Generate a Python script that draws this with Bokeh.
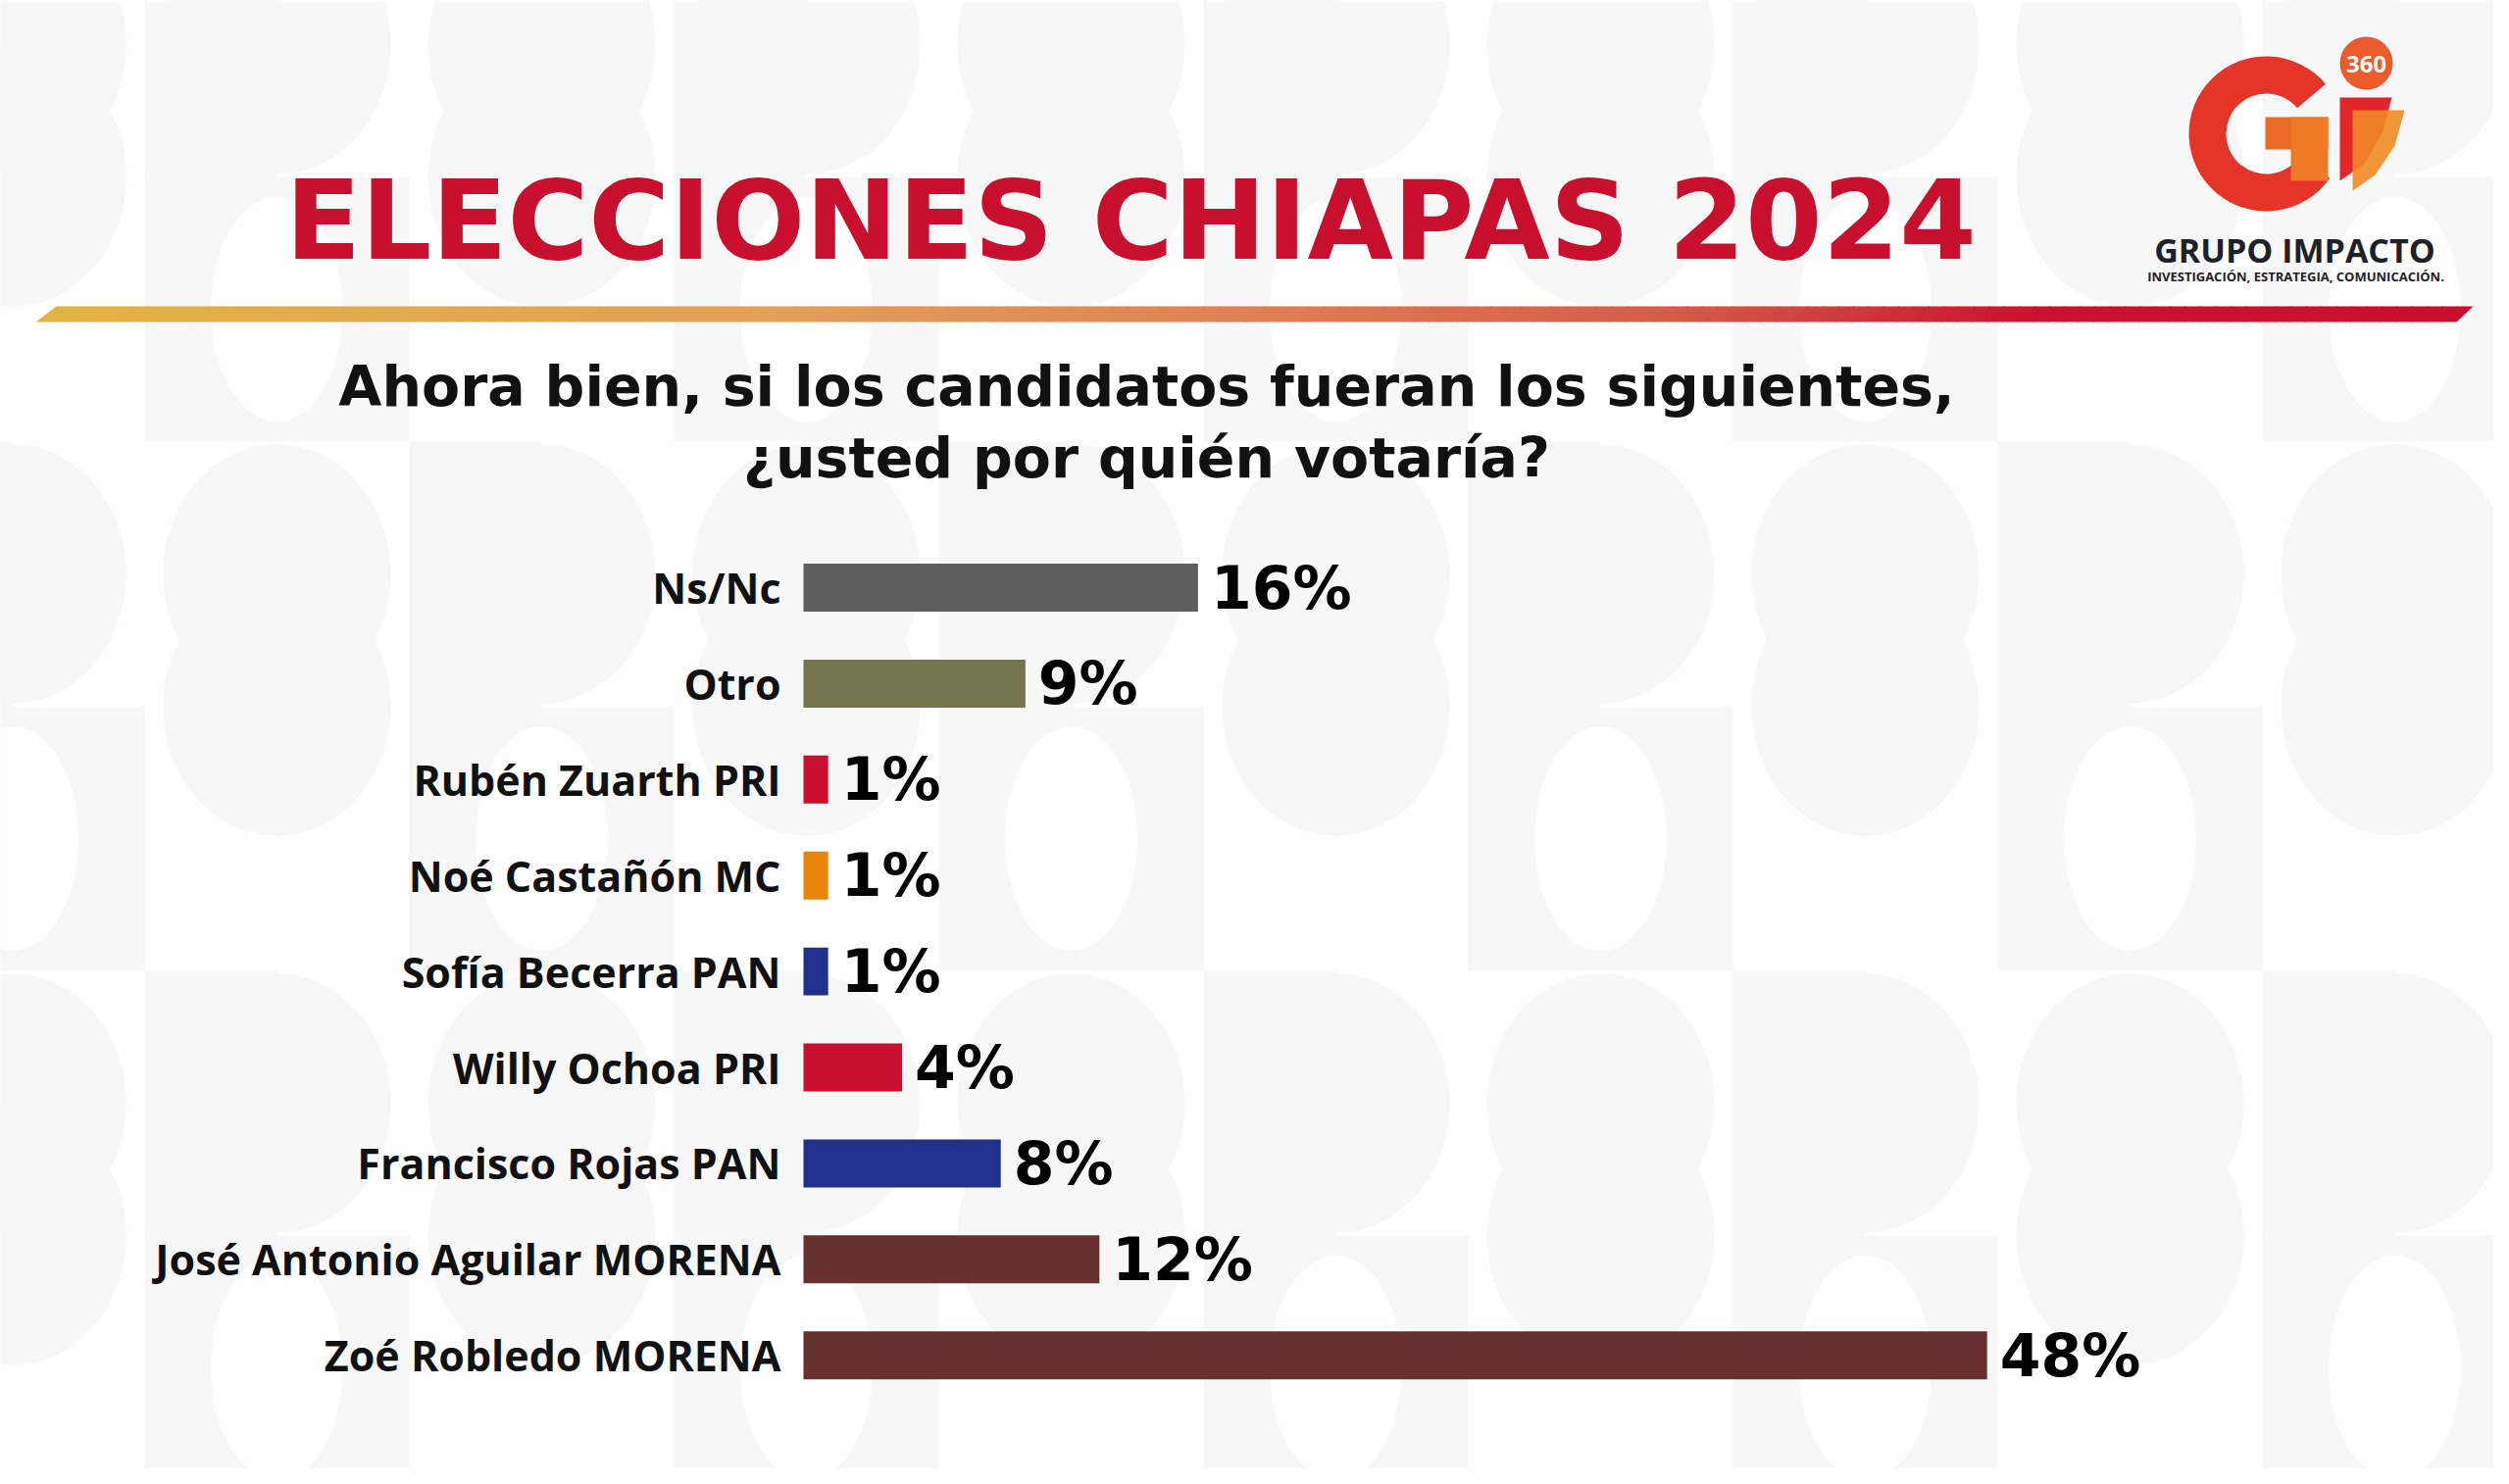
from bokeh.plotting import figure
from bokeh.models import Range1d, ColumnDataSource
from bokeh.core.properties import value
from bokeh.embed import file_html
from bokeh.resources import INLINE
import numpy as np

# ---------------- data ----------------
categories = ["Ns/Nc", "Otro", "Rubén Zuarth PRI", "Noé Castañón MC", "Sofía Becerra PAN",
              "Willy Ochoa PRI", "Francisco Rojas PAN", "José Antonio Aguilar MORENA", "Zoé Robledo MORENA"]
values = [16, 9, 1, 1, 1, 4, 8, 12, 48]
value_labels = ["16%", "9%", "1%", "1%", "1%", "4%", "8%", "12%", "48%"]
bar_colors = ["#5F5F5F", "#76764E", "#C8102E", "#E8860A", "#1F318B",
              "#C8102E", "#1F318B", "#66312E", "#66312E"]
title_text = "ELECCIONES CHIAPAS 2024"
subtitle_lines = ["Ahora bien, si los candidatos fueran los siguientes,", "¿usted por quién votaría?"]
brand = "GRUPO IMPACTO"
tagline = "INVESTIGACIÓN, ESTRATEGIA, COMUNICACIÓN."

# ---------------- figure (page coords = pixels) ----------------
W, H = 2543, 1498
p = figure(width=W, height=H, x_range=Range1d(0, W), y_range=Range1d(H, 0),
           output_backend="svg", toolbar_location=None, min_border=0,
           x_axis_location=None, y_axis_location=None)
p.grid.visible = False
p.outline_line_color = None
p.background_fill_color = "#FFFFFF"
p.border_fill_color = "#FFFFFF"

# data ranges: percent on x, row index on y
PX_PER_UNIT = 25.15
X0 = 819.0
ROW0 = 599.0
ROW_STEP = 97.9
p.extra_x_ranges = {"pct": Range1d(-X0 / PX_PER_UNIT, (W - X0) / PX_PER_UNIT)}
p.extra_y_ranges = {"row": Range1d(start=(H - ROW0) / ROW_STEP, end=-ROW0 / ROW_STEP)}

# ---------------- background pattern ----------------
T = 270
gx0, gy0 = 147 - T, 180 - T
bg = "#F7F7F7"
sq_l, sq_r, sq_t, sq_b = [], [], [], []
cx_g, cy_g = [], []
cx_w, cy_w = [], []
for i in range(11):
    for j in range(7):
        x0 = gx0 + i * T
        y0 = gy0 + j * T
        mode = (i * 2 + j * 3) % 4
        if mode == 0:
            cx_g.append(x0 + T / 2); cy_g.append(y0 + T / 2)
        elif mode == 1:
            sq_l.append(x0); sq_r.append(x0 + T); sq_t.append(y0); sq_b.append(y0 + T)
            cx_w.append(x0 + T / 2); cy_w.append(y0 + T / 2)
        elif mode == 2:
            sq_l.append(x0); sq_r.append(x0 + T / 2); sq_t.append(y0); sq_b.append(y0 + T)
            cx_g.append(x0 + T / 2); cy_g.append(y0 + T / 2)
        else:
            cx_g.append(x0 + T / 2); cy_g.append(y0)
p.quad(left=sq_l, right=sq_r, top=sq_t, bottom=sq_b, fill_color=bg, line_color=None)
p.ellipse(x=cx_g, y=cy_g, width=T * 0.86, height=T * 0.98, fill_color=bg, line_color=None)
p.ellipse(x=cx_w, y=cy_w, width=T * 0.5, height=T * 0.85, fill_color="#FFFFFF", line_color=None)

# ---------------- gradient band ----------------
stops_t = [0.0, 0.3, 0.5, 0.68, 0.82, 1.0]
stops_c = [(225, 180, 67), (227, 160, 88), (224, 128, 85), (212, 90, 72), (200, 20, 46), (200, 16, 46)]
N = 160
xs, ys, cols = [], [], []
for k in range(N):
    t0, t1 = k / N, (k + 1) / N
    tm = (t0 + t1) / 2
    rgb = [int(np.interp(tm, stops_t, [c[m] for c in stops_c])) for m in range(3)]
    cols.append("#%02x%02x%02x" % tuple(rgb))
    tx0 = 57 + t0 * 2464; tx1 = 57 + t1 * 2464 + 1
    bx0 = 36 + t0 * 2468; bx1 = 36 + t1 * 2468 + 1
    xs.append([tx0, tx1, bx1, bx0]); ys.append([312, 312, 328, 328])
p.patches(xs=xs, ys=ys, fill_color=cols, line_color=None)

# ---------------- titles ----------------
p.text(x=[1153], y=[224], text=[title_text], text_align="center", text_baseline="middle",
       text_font=value("DejaVu Sans"), text_font_style="bold", text_font_size="113px", text_color="#C8102E")
p.text(x=[1169, 1169], y=[393, 466], text=subtitle_lines, text_align="center", text_baseline="middle",
       text_font=value("DejaVu Sans"), text_font_style="bold", text_font_size="57px", text_color="#111111")

# ---------------- logo ----------------
p.annular_wedge(x=[2311], y=[136], inner_radius=41, outer_radius=79, start_angle=40, end_angle=-35,
                start_angle_units="deg", end_angle_units="deg", direction="anticlock",
                fill_color="#E5352B", line_color=None)
p.quad(left=[2310], right=[2374], top=[119], bottom=[152], fill_color="#EC6A28", line_color=None)
p.quad(left=[2336], right=[2374], top=[119], bottom=[184], fill_color="#EE7A27", line_color=None)
p.patch(x=[2386, 2439, 2430, 2412, 2386], y=[99, 99, 133, 166, 184], fill_color="#E3262A", line_color=None)
p.patch(x=[2399, 2452, 2442, 2422, 2399], y=[112, 112, 148, 178, 194], fill_color="#F08A26",
        fill_alpha=0.9, line_color=None)
p.circle(x=[2413], y=[64], radius=27, fill_color="#EC5B2B", line_color=None)
p.text(x=[2413], y=[65], text=["360"], text_align="center", text_baseline="middle",
       text_font=value("Open Sans"), text_font_style="bold", text_font_size="24px", text_color="#FFFFFF")
p.text(x=[2340], y=[254], text=[brand], text_align="center", text_baseline="middle",
       text_font=value("Open Sans"), text_font_style="bold", text_font_size="34px", text_color="#1E2228")
p.text(x=[2341], y=[281], text=[tagline], text_align="center", text_baseline="middle",
       text_font=value("Open Sans"), text_font_style="bold", text_font_size="13px", text_color="#1E2228")

# ---------------- bars ----------------
src = ColumnDataSource(dict(row=list(range(len(categories))), cat=categories, val=values,
                            lab=value_labels, color=bar_colors))
p.hbar(y="row", left=0, right="val", height=0.5, fill_color="color", line_color=None, source=src,
       x_range_name="pct", y_range_name="row")
p.text(x=0, y="row", text="cat", x_offset=-23, text_align="right", text_baseline="middle",
       text_font=value("Open Sans"), text_font_style="bold", text_font_size="43px", text_color="#111111",
       source=src, x_range_name="pct", y_range_name="row")
p.text(x="val", y="row", text="lab", x_offset=13, text_align="left", text_baseline="middle",
       text_font=value("DejaVu Sans"), text_font_style="bold", text_font_size="60px", text_color="#000000",
       source=src, x_range_name="pct", y_range_name="row")

open("out.html", "w").write(file_html(p, INLINE))
